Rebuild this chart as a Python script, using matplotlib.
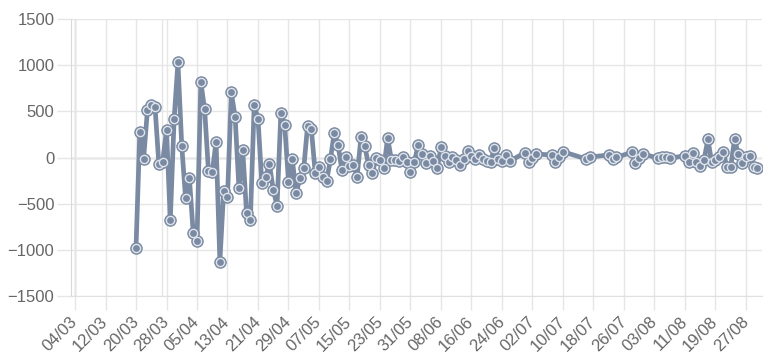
import matplotlib
matplotlib.use("Agg")
import matplotlib.pyplot as plt
import matplotlib.dates as mdates
import pandas as pd

# ---- data (daily changes; some days missing in July/August) ----
run_starts = ["2020-03-20", "2020-06-30", "2020-07-07", "2020-07-16",
              "2020-07-22", "2020-07-28", "2020-08-04", "2020-08-11"]
run_ends = ["2020-06-26", "2020-07-03", "2020-07-10", "2020-07-17",
            "2020-07-24", "2020-07-31", "2020-08-07", "2020-08-30"]

values_mar_jun = [
    -982, 279, -13, 514, 568, 543, -74, -45, 298, -676, 417, 1030, 128, -442,
    -218, -813, -900, 820, 521, -143, -160, 171, -1127, -359, -431, 705, 441,
    -333, 81, -604, -679, 571, 417, -273, -208, -70, -352, -521, 485, 352,
    -262, -20, -387, -225, -117, 341, 305, -164, -106, -207, -251, -20, 268,
    135, -135, 2, -92, -81, -207, 218, 124, -81, -171, -2, -27, -117, 214, -27,
    -27, -35, 2, -45, -153, -52, 135, 38, -63, 16, -40, -117, 110, 16, -45, 9,
    -27, -81, -20, 74, 16, -20, 27, -20, -35, -45, 100, -20, -35, 27, -40,
]
values_jul_a = [52, -45, -10, 38]
values_jul_b = [27, -45, 9, 63]
values_jul_c = [-15, 5]
values_jul_d = [27, -20, 2]
values_jul_e = [55, -55, -9, 40]
values_aug_a = [-9, 2, 2, -9]
values_aug_b = [20, -50, 54, -45, -95, -27, 197, -50, -25, 10, 60, -99, -99,
                197, 35, -60, 9, 12, -100, -117]

value_runs = [values_mar_jun, values_jul_a, values_jul_b, values_jul_c,
              values_jul_d, values_jul_e, values_aug_a, values_aug_b]

y_ticks = [-1500, -1000, -500, 0, 500, 1000, 1500]
x_tick_start, x_tick_end = "2020-03-04", "2020-08-27"

dates = []
values = []
for s, e, v in zip(run_starts, run_ends, value_runs):
    d = pd.date_range(s, e, freq="D")
    assert len(d) == len(v), (s, len(d), len(v))
    dates.extend(d)
    values.extend(v)

# ---- style ----
LINE = "#7a8aa2"
GRID = "#e6e6e6"
ZERO = "#bfbfbf"
TXT = "#666666"
plt.rcParams["font.family"] = ["Liberation Sans", "DejaVu Sans"]

fig = plt.figure(figsize=(7.72, 3.55), dpi=100)
ax = fig.add_axes([71 / 772, 1 - 296 / 355, (762 - 71) / 772, (296 - 19) / 355])

ax.plot(dates, values, color=LINE, lw=3.4, zorder=3, solid_joinstyle="round")
ax.plot(dates, values, "o", ms=8.2, mfc=LINE, mec=LINE, mew=0.8, zorder=4)
ax.plot(dates, values, "o", ms=5.9, mfc=LINE, mec="#dfe4eb", mew=1.0, zorder=5)

t0 = pd.Timestamp(x_tick_start)
ax.set_xlim(t0 - pd.Timedelta(days=1.05), t0 + pd.Timedelta(days=180.2))
ax.set_ylim(y_ticks[0], y_ticks[-1])
ax.set_yticks(y_ticks)
ax.set_xticks(pd.date_range(x_tick_start, x_tick_end, freq="8D"))
ax.xaxis.set_major_formatter(mdates.DateFormatter("%d/%m"))

ax.grid(True, color=GRID, lw=1, zorder=0)
ax.axhline(0, color=ZERO, lw=1, zorder=1)
ax.axvline(t0, color=ZERO, lw=1, zorder=1)
ax.axvline(t0 + pd.Timedelta(days=22.7), color=GRID, lw=1, zorder=0)

for side in ["top", "right"]:
    ax.spines[side].set_visible(False)
ax.spines["left"].set_color("#d9d9d9")
ax.spines["bottom"].set_color("#e0e0e0")

ax.tick_params(axis="y", length=10, width=1, color=GRID, labelcolor=TXT,
               labelsize=12, pad=2)
ax.tick_params(axis="x", length=10, width=1, color=GRID, labelcolor=TXT,
               labelsize=12, pad=7)
for lbl in ax.get_xticklabels():
    lbl.set_rotation(45)
    lbl.set_ha("right")
    lbl.set_va("center")
    lbl.set_rotation_mode("anchor")

fig.savefig("out.png", dpi=100)
